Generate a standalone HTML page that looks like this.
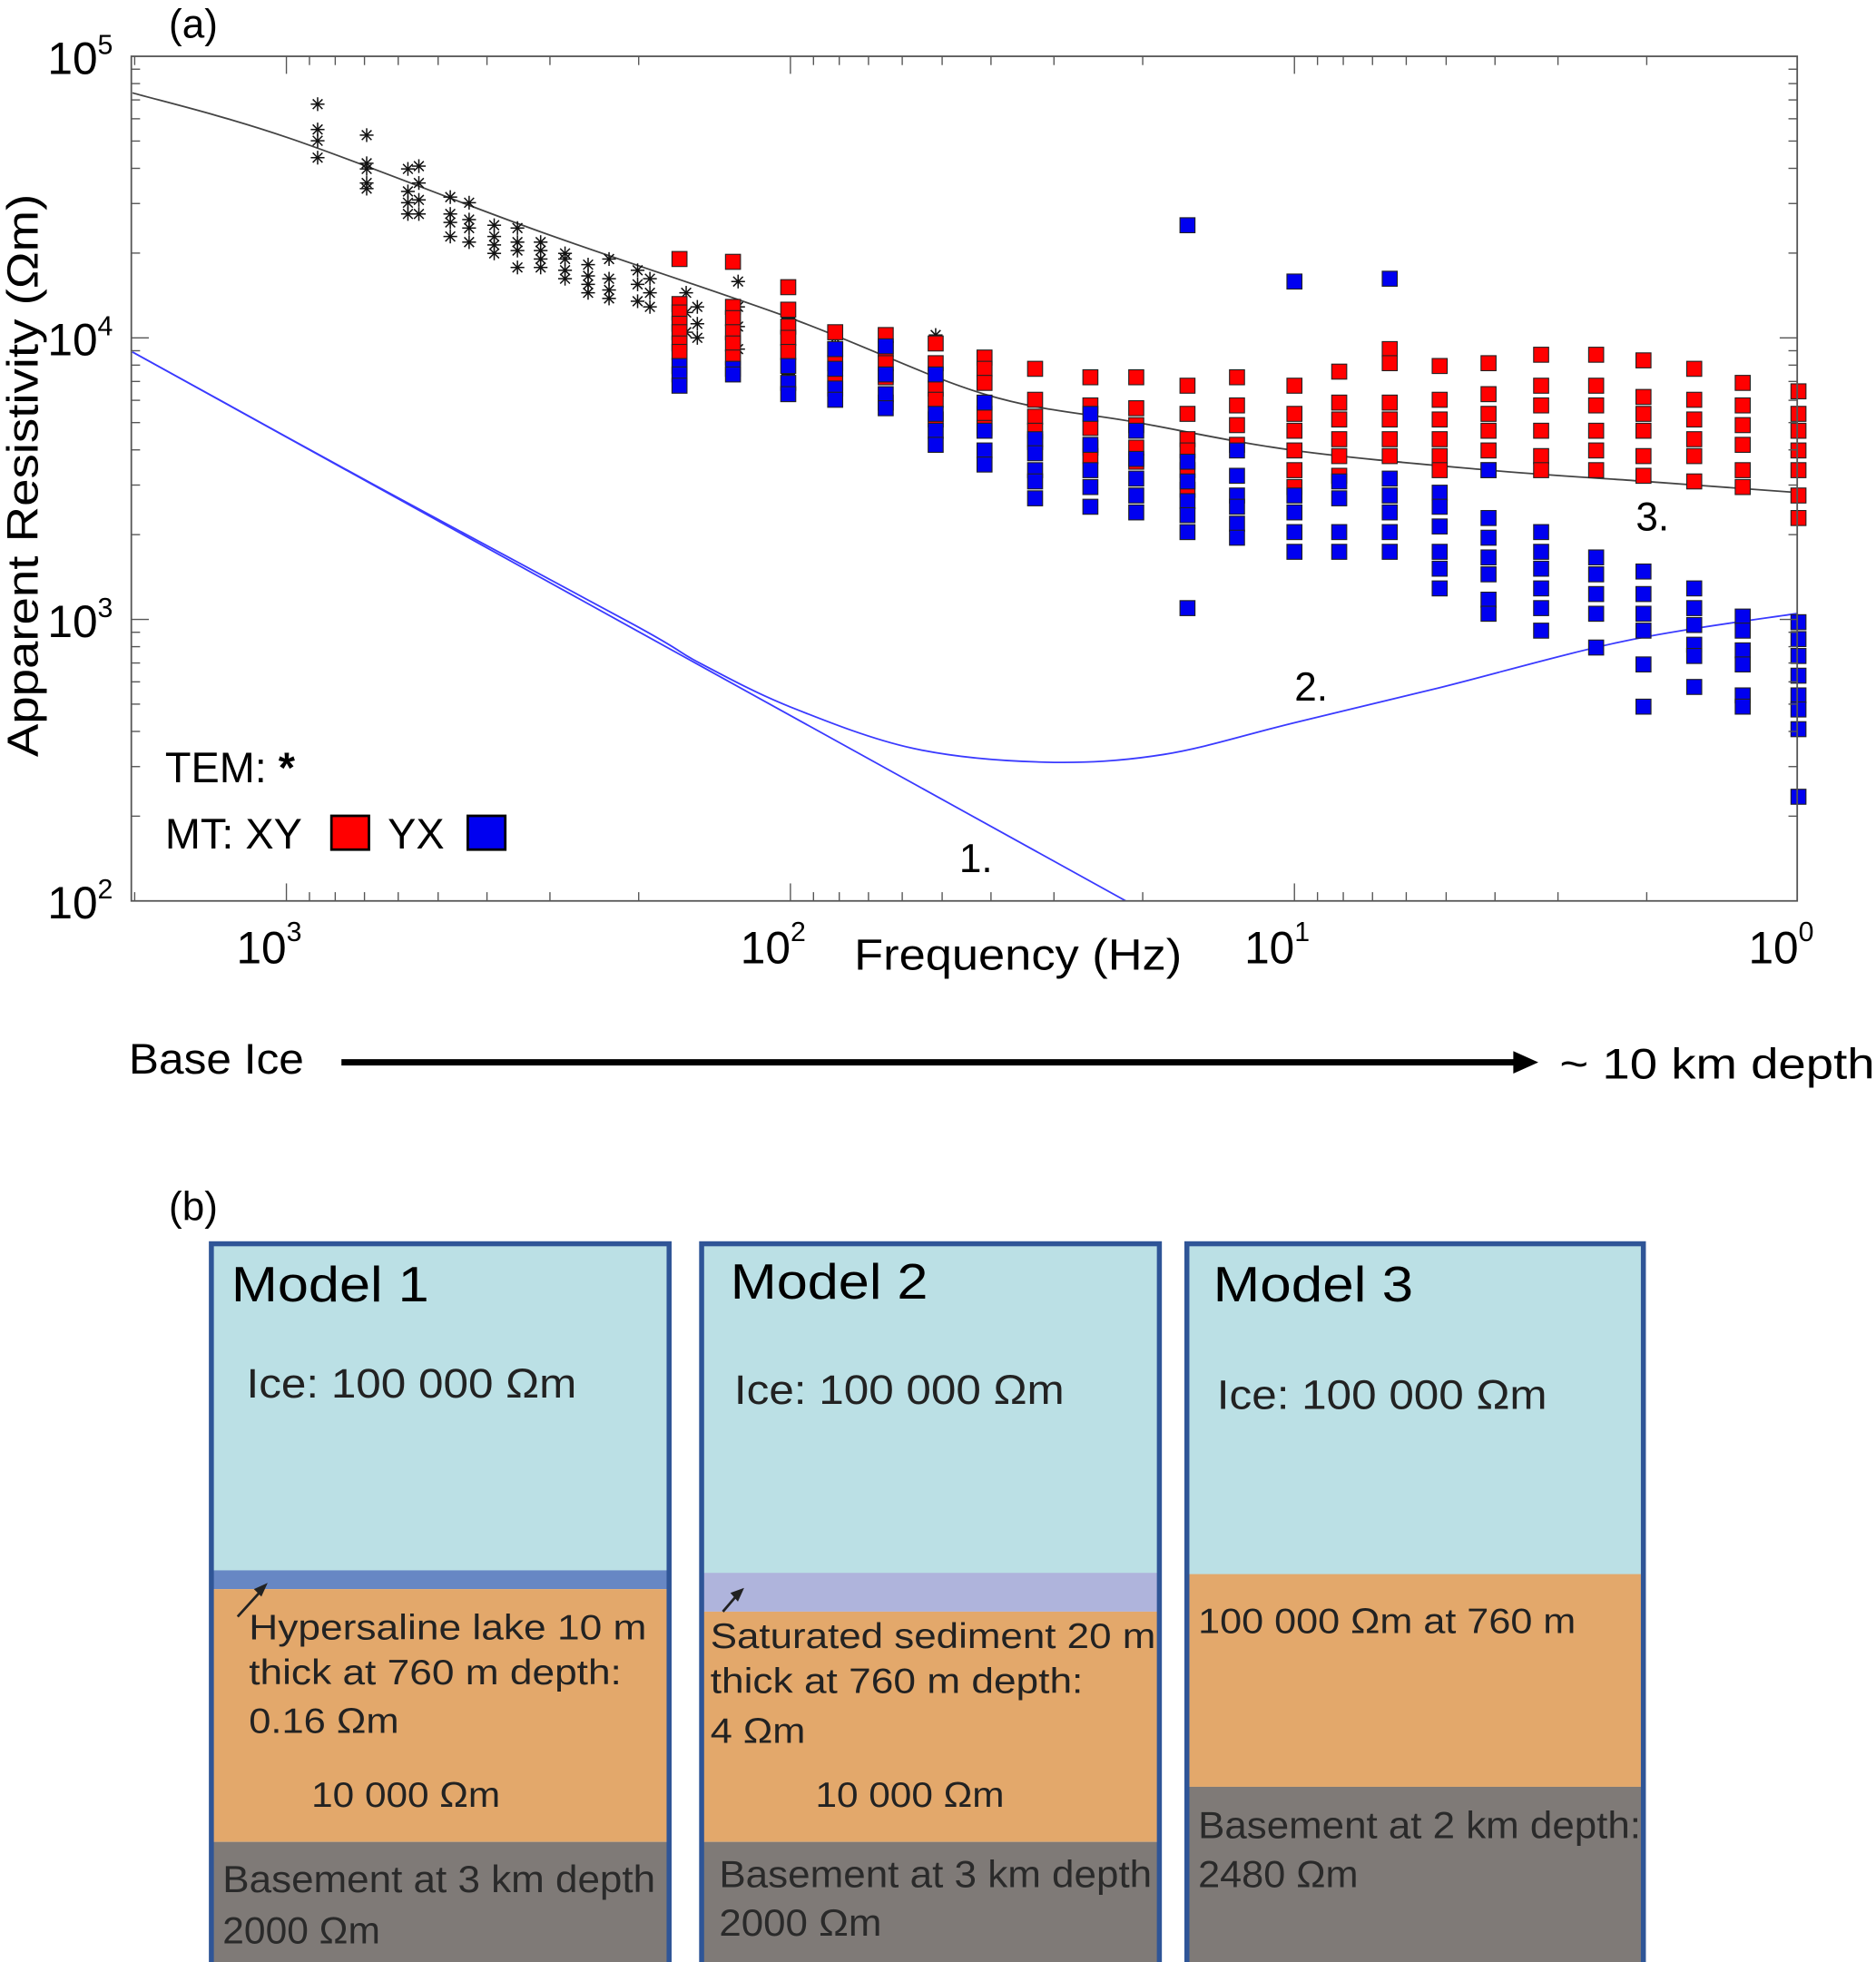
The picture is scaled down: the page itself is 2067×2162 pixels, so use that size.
<!DOCTYPE html>
<html><head><meta charset="utf-8"><style>
html,body{margin:0;padding:0;background:#fff;}
svg{display:block;}
text{font-family:"Liberation Sans",sans-serif;}
</style></head><body>
<svg id="fig" width="2067" height="2162" viewBox="0 0 1500 1568" preserveAspectRatio="none" xmlns="http://www.w3.org/2000/svg">
<text x="135" y="30" font-size="32">(a)</text>
<g id="plot"></g>
<g id="axes"></g>
<text transform="translate(30,380) rotate(-90)" text-anchor="middle" font-size="35" textLength="450" lengthAdjust="spacingAndGlyphs">Apparent Resistivity (Ωm)</text>
<text x="683" y="775" font-size="35" textLength="262" lengthAdjust="spacingAndGlyphs">Frequency (Hz)</text>
<g>
<text x="132" y="625" font-size="34">TEM: <tspan font-weight="bold">*</tspan></text>
<text x="132" y="678" font-size="34">MT: XY</text>
<rect x="265" y="652" width="30" height="27" fill="#ff0000" stroke="#000" stroke-width="2"/>
<text x="310" y="678" font-size="34">YX</text>
<rect x="374" y="652" width="30" height="27" fill="#0000f0" stroke="#000" stroke-width="2"/>
</g>
<text x="767" y="697" font-size="32">1.</text>
<text x="1035" y="560" font-size="32">2.</text>
<text x="1308" y="424" font-size="32">3.</text>
<text x="103" y="858" font-size="34" textLength="140" lengthAdjust="spacingAndGlyphs">Base Ice</text>
<line x1="273" y1="849" x2="1212" y2="849" stroke="#000" stroke-width="5"/>
<polygon points="1230,849 1210,840 1210,858" fill="#000"/>
<text x="1247" y="862" font-size="34" textLength="252" lengthAdjust="spacingAndGlyphs">~ 10 km depth</text>

<text x="135" y="975" font-size="32">(b)</text>

<g>
<rect x="169" y="994" width="366" height="262" fill="#bbe0e5"/>
<rect x="169" y="1255" width="366" height="15" fill="#6787c4"/>
<rect x="169" y="1270" width="366" height="202" fill="#e3a86b"/>
<rect x="169" y="1472" width="366" height="96" fill="#7f7a77"/>
<rect x="169" y="994" width="366" height="580" fill="none" stroke="#2f5597" stroke-width="4"/>
<text x="185" y="1040" font-size="40" textLength="158" lengthAdjust="spacingAndGlyphs">Model 1</text>
<text x="197" y="1117" font-size="33" fill="#222" textLength="264" lengthAdjust="spacingAndGlyphs">Ice: 100 000 Ωm</text>
<line x1="190" y1="1292" x2="210" y2="1270" stroke="#222" stroke-width="2"/>
<polygon points="214,1265 203,1270 209,1276" fill="#222"/>
<text x="199" y="1310" font-size="28" fill="#222" textLength="318" lengthAdjust="spacingAndGlyphs">Hypersaline lake 10 m</text>
<text x="199" y="1346" font-size="28" fill="#222" textLength="298" lengthAdjust="spacingAndGlyphs">thick at 760 m depth:</text>
<text x="199" y="1385" font-size="28" fill="#222" textLength="120" lengthAdjust="spacingAndGlyphs">0.16 Ωm</text>
<text x="249" y="1444" font-size="28" fill="#222" textLength="151" lengthAdjust="spacingAndGlyphs">10 000 Ωm</text>
<text x="178" y="1512" font-size="30" fill="#2a2a2a" textLength="346" lengthAdjust="spacingAndGlyphs">Basement at 3 km depth</text>
<text x="178" y="1553" font-size="30" fill="#2a2a2a" textLength="126" lengthAdjust="spacingAndGlyphs">2000 Ωm</text>
</g>

<g>
<rect x="561" y="994" width="366" height="264" fill="#bbe0e5"/>
<rect x="561" y="1257" width="366" height="31" fill="#afb4dc"/>
<rect x="561" y="1288" width="366" height="184" fill="#e3a86b"/>
<rect x="561" y="1472" width="366" height="96" fill="#7f7a77"/>
<rect x="561" y="994" width="366" height="580" fill="none" stroke="#2f5597" stroke-width="4"/>
<text x="584" y="1038" font-size="40" textLength="158" lengthAdjust="spacingAndGlyphs">Model 2</text>
<text x="587" y="1122" font-size="33" fill="#222" textLength="264" lengthAdjust="spacingAndGlyphs">Ice: 100 000 Ωm</text>
<line x1="578" y1="1288" x2="590" y2="1274" stroke="#222" stroke-width="2"/>
<polygon points="595,1269 584,1273 590,1280" fill="#222"/>
<text x="568" y="1317" font-size="28" fill="#222" textLength="356" lengthAdjust="spacingAndGlyphs">Saturated sediment 20 m</text>
<text x="568" y="1353" font-size="28" fill="#222" textLength="298" lengthAdjust="spacingAndGlyphs">thick at 760 m depth:</text>
<text x="568" y="1393" font-size="28" fill="#222" textLength="76" lengthAdjust="spacingAndGlyphs">4 Ωm</text>
<text x="652" y="1444" font-size="28" fill="#222" textLength="151" lengthAdjust="spacingAndGlyphs">10 000 Ωm</text>
<text x="575" y="1508" font-size="30" fill="#2a2a2a" textLength="346" lengthAdjust="spacingAndGlyphs">Basement at 3 km depth</text>
<text x="575" y="1547" font-size="30" fill="#2a2a2a" textLength="130" lengthAdjust="spacingAndGlyphs">2000 Ωm</text>
</g>

<g>
<rect x="949" y="994" width="365" height="265" fill="#bbe0e5"/>
<rect x="949" y="1258" width="365" height="170" fill="#e3a86b"/>
<rect x="949" y="1428" width="365" height="140" fill="#7f7a77"/>
<rect x="949" y="994" width="365" height="580" fill="none" stroke="#2f5597" stroke-width="4"/>
<text x="970" y="1040" font-size="40" textLength="160" lengthAdjust="spacingAndGlyphs">Model 3</text>
<text x="973" y="1126" font-size="33" fill="#222" textLength="264" lengthAdjust="spacingAndGlyphs">Ice: 100 000 Ωm</text>
<text x="958" y="1305" font-size="28" fill="#222" textLength="302" lengthAdjust="spacingAndGlyphs">100 000 Ωm at 760 m</text>
<text x="958" y="1469" font-size="30" fill="#2a2a2a" textLength="354" lengthAdjust="spacingAndGlyphs">Basement at 2 km depth:</text>
<text x="958" y="1508" font-size="30" fill="#2a2a2a" textLength="128" lengthAdjust="spacingAndGlyphs">2480 Ωm</text>
</g>
</svg>
<script>
// ---- data (frequency in Hz, values are log10 of apparent resistivity in Ωm) ----
const mtFreqs = [166,130,101,81.5,64.7,51.5,41.2,32.7,25.4,20.6,16.3,13,10,8.15,6.47,5.15,4.12,3.24,2.52,2.03,1.61,1.29,1.0];
const xyLogRho = [
 [4.28,4.12,4.09,4.05,4.02,3.98,3.95],
 [4.27,4.11,4.07,4.02,3.98,3.93],
 [4.18,4.10,4.04,4.00,3.95],
 [4.02,3.96,3.91,3.84],
 [4.01,3.96,3.91,3.86,3.77],
 [3.98,3.91,3.82,3.78,3.71],
 [3.93,3.89,3.84,3.73,3.68],
 [3.89,3.78,3.72,3.67,3.63],
 [3.86,3.76,3.68,3.61,3.58],
 [3.86,3.75,3.69,3.61,3.56],
 [3.83,3.73,3.64,3.60,3.53,3.46],
 [3.86,3.76,3.69,3.62],
 [3.83,3.73,3.67,3.60,3.53,3.47],
 [3.88,3.77,3.71,3.64,3.58,3.51],
 [3.96,3.91,3.77,3.71,3.64,3.58],
 [3.90,3.78,3.71,3.64,3.58,3.53],
 [3.91,3.80,3.73,3.67,3.60,3.53],
 [3.94,3.83,3.76,3.67,3.58,3.53],
 [3.94,3.83,3.76,3.67,3.60,3.53],
 [3.92,3.79,3.73,3.67,3.58,3.51],
 [3.89,3.78,3.71,3.64,3.58,3.49],
 [3.84,3.76,3.69,3.62,3.53,3.47],
 [3.81,3.73,3.67,3.60,3.53,3.44,3.36]
];
const yxLogRho = [
 [3.90,3.87,3.83],
 [3.89,3.87],
 [3.90,3.84,3.80],
 [3.96,3.89,3.82,3.78],
 [3.97,3.87,3.80,3.75],
 [3.87,3.73,3.67,3.62],
 [3.77,3.67,3.60,3.55],
 [3.64,3.59,3.53,3.49,3.43],
 [3.73,3.62,3.53,3.47,3.40],
 [3.67,3.57,3.50,3.44,3.38],
 [4.40,3.56,3.49,3.42,3.37,3.31,3.04],
 [3.60,3.51,3.44,3.40,3.34,3.29],
 [4.20,3.44,3.38,3.31,3.24],
 [3.49,3.43,3.31,3.24],
 [4.21,3.50,3.44,3.38,3.31,3.24],
 [3.45,3.40,3.33,3.24,3.18,3.11],
 [3.53,3.36,3.29,3.22,3.16,3.07,3.02],
 [3.31,3.24,3.18,3.11,3.04,2.96],
 [3.22,3.16,3.09,3.02,2.90],
 [3.17,3.09,3.02,2.96,2.84,2.69],
 [3.11,3.04,2.98,2.91,2.87,2.76],
 [3.01,2.96,2.89,2.84,2.73,2.69],
 [2.99,2.93,2.87,2.80,2.73,2.68,2.61,2.37]
];
const temFreqs = [867,693,574,546,473,434,387,348,313,280,252,229,201,190,161,153,127,101,81.5,64.7,51.5];
const temLogRho = [
 [4.83,4.74,4.70,4.64],[4.72,4.62,4.60,4.55,4.53],[4.60,4.52,4.48,4.44],[4.61,4.55,4.49,4.44],
 [4.50,4.44,4.41,4.36],[4.48,4.42,4.39,4.34],[4.40,4.36,4.33,4.30],[4.39,4.34,4.31,4.25],
 [4.34,4.31,4.28,4.25],[4.30,4.28,4.24,4.21],[4.26,4.22,4.19,4.16],[4.28,4.21,4.17,4.14],
 [4.24,4.19,4.13],[4.21,4.16,4.11],[4.16,4.09,4.02],[4.11,4.05,4.00],[4.20,4.11,4.04,3.96],
 [4.18,4.07,3.96,3.87],[4.00,3.93,3.84],[3.99,3.89,3.76],[4.01,3.91,3.80]
];
const model1Freqs = [2020,21.6];
const model1LogRho = [3.95,2.0];
const model2Freqs = [2020,667,203,151,100,57.1,31.3,18.2,10.1,5.19,2.20,1.0];
const model2LogRho = [3.95,3.476,2.978,2.844,2.689,2.542,2.493,2.520,2.631,2.756,2.924,3.022];
const model3Freqs = [2020,989,317,100,41.2,20.6,10.0,4.10,2.02,1.0];
const model3LogRho = [4.87,4.71,4.38,4.07,3.80,3.70,3.60,3.53,3.49,3.45];
const xTicks = [1000,100,10,1];
const xTickExp = ["3","2","1","0"];
const yTicks = [100000,10000,1000,100];
const yTickExp = ["5","4","3","2"];

// ---- axis functions ----
const L=105,R=1437,T=45,B=720, DEC_X=403, DEC_Y=225;
function xs(f){return 632-(Math.log10(f)-2)*DEC_X;}
function ys(r){return T+(5-Math.log10(r))*DEC_Y;}
const NS='http://www.w3.org/2000/svg';
function mk(tag,attrs,parent){const e=document.createElementNS(NS,tag);for(const k in attrs)e.setAttribute(k,attrs[k]);parent.appendChild(e);return e;}
const plot=document.getElementById('plot'), axes=document.getElementById('axes');

const clip=mk('clipPath',{id:'pc'},plot);
mk('rect',{x:L,y:T,width:R-L,height:B-T},clip);

function curve(fr,lr,color,name){
  const P=fr.map((f,i)=>[xs(f),ys(Math.pow(10,lr[i]))]);
  let d='M'+P[0][0].toFixed(1)+','+P[0][1].toFixed(1);
  for(let i=0;i<P.length-1;i++){
    const p0=P[Math.max(0,i-1)],p1=P[i],p2=P[i+1],p3=P[Math.min(P.length-1,i+2)];
    const c1=[p1[0]+(p2[0]-p0[0])/6,p1[1]+(p2[1]-p0[1])/6];
    const c2=[p2[0]-(p3[0]-p1[0])/6,p2[1]-(p3[1]-p1[1])/6];
    d+=' C'+c1.map(v=>v.toFixed(1)).join(',')+' '+c2.map(v=>v.toFixed(1)).join(',')+' '+p2.map(v=>v.toFixed(1)).join(',');
  }
  const p=mk('path',{d:d,fill:'none',stroke:color,'stroke-width':1.3,'clip-path':'url(#pc)'},plot);
  
  
}
curve(model1Freqs,model1LogRho,'#3a3aff','model-1-curve');
curve(model2Freqs,model2LogRho,'#3a3aff','model-2-curve');
curve(model3Freqs,model3LogRho,'#444','model-3-curve');

// TEM asterisks
const AR=5.5;
temFreqs.forEach((f,i)=>{temLogRho[i].forEach(v=>{
  const cx=xs(f), cy=ys(Math.pow(10,v));
  const g=mk('g',{stroke:'#111','stroke-width':1.1},plot);
  
  
  for(let a=0;a<4;a++){const t=a*Math.PI/4;
    mk('line',{x1:cx-AR*Math.cos(t),y1:cy-AR*Math.sin(t),x2:cx+AR*Math.cos(t),y2:cy+AR*Math.sin(t)},g);}
});});

const S=12;
function squares(vals,color,name){
  mtFreqs.forEach((f,i)=>{vals[i].forEach(v=>{
    const r=mk('rect',{x:xs(f)-S/2,y:ys(Math.pow(10,v))-S/2,width:S,height:S,fill:color,stroke:'#222','stroke-width':0.8},plot);
    
    
  });});
}
squares(xyLogRho,'#ff0000','mt-xy-point');
squares(yxLogRho,'#0000f0','mt-yx-point');

// frame
const fr=mk('rect',{x:L,y:T,width:R-L,height:B-T,fill:'none',stroke:'#555','stroke-width':1.3},axes);


for(let d=2;d<5;d++){for(let m=1;m<10;m++){const y=ys(m*Math.pow(10,d));const len=m===1?14:7;
  mk('line',{x1:L,y1:y,x2:L+len,y2:y,stroke:'#555','stroke-width':1},axes);
  mk('line',{x1:R,y1:y,x2:R-len,y2:y,stroke:'#555','stroke-width':1},axes);}}
yTicks.forEach((v,i)=>{const y=ys(v);
  const t=mk('text',{x:38,y:y+14,'font-size':36},axes);
  t.textContent='10';
  const s=mk('tspan',{dy:-16,'font-size':22},t);s.textContent=yTickExp[i];
  
  
});
for(let d=0;d<4;d++){for(let m=1;m<10;m++){const f=m*Math.pow(10,d);const x=xs(f);if(x<L||x>R)continue;const len=m===1?14:7;
  mk('line',{x1:x,y1:B,x2:x,y2:B-len,stroke:'#555','stroke-width':1},axes);
  mk('line',{x1:x,y1:T,x2:x,y2:T+len,stroke:'#555','stroke-width':1},axes);}}
xTicks.forEach((v,i)=>{const x=xs(v);
  const t=mk('text',{x:x-40,y:770,'font-size':36},axes);
  t.textContent='10';
  const s=mk('tspan',{dy:-18,'font-size':22},t);s.textContent=xTickExp[i];
  
  
});
</script>
</body></html>
